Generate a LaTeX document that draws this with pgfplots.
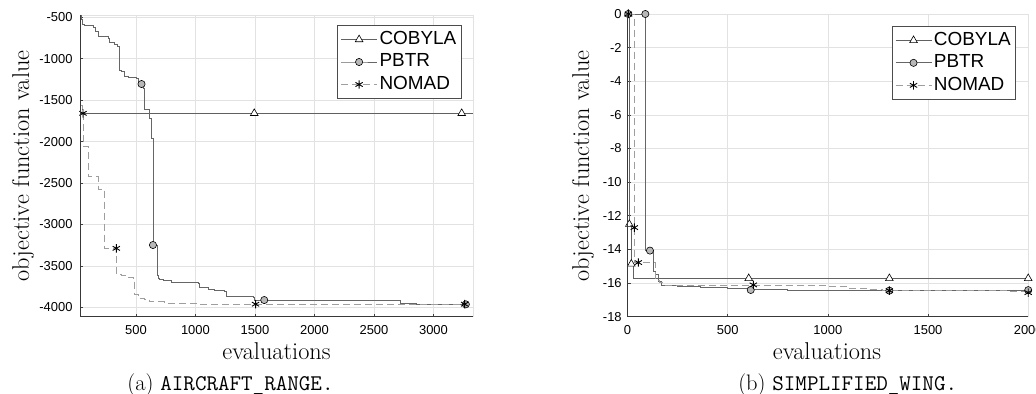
\documentclass[border=0pt]{standalone}
\usepackage{fontspec}
\newfontfamily\arial{Liberation Sans}
\usepackage{pgfplots}
\pgfplotsset{compat=1.18}
\definecolor{gridc}{HTML}{E2E2E2}
\pgfplotsset{
  mystyle/.style={
    scale only axis, anchor=south west,
    grid=major, grid style={gridc, line width=0.6bp},
    axis line style={gridc, line width=0.6bp},
    tick align=inside, xtick pos=left, ytick pos=left,
    major tick length=3bp,
    tick style={black!75, line width=0.6bp},
    tick label style={font=\arial\fontsize{13}{15}\selectfont},
    scaled ticks=false,
    clip mode=individual,
    legend cell align=left,
    legend style={anchor=north east, font=\arial\fontsize{19}{21}\selectfont,
      draw=black!70, line width=0.6bp, inner sep=3bp, row sep=0bp,
      nodes={inner sep=2bp, text height=14bp, text depth=4.5bp}},
    legend image code/.code={\draw[mark repeat=2,mark phase=2,##1] plot coordinates {(0bp,0bp) (18bp,0bp) (36bp,0bp)};},
    after end axis/.code={\draw[black!78, line width=0.7bp] (rel axis cs:0,1) -- (rel axis cs:0,0) -- (rel axis cs:1,0);},
  },
  cobline/.style={color=black!62, line width=0.8bp, solid},
  pbline/.style={color=black!60, line width=0.8bp, solid},
  noline/.style={color=black!38, line width=0.8bp, dash pattern=on 7bp off 4bp},
  cobmark/.style={mark=triangle*, mark size=4.4bp, mark options={fill=white, draw=black, solid, line width=0.6bp}},
  pbmark/.style={mark=*, mark size=3.6bp, mark options={fill=black!28, draw=black, solid, line width=0.6bp}},
  nomark/.style={mark=asterisk, mark size=4.2bp, mark options={draw=black, solid, line width=0.9bp}},
}
\begin{document}
\begin{tikzpicture}
\useasboundingbox (0,0) rectangle (1036bp,394bp);
% ---------------- left: AIRCRAFT_RANGE
\begin{axis}[mystyle,
  at={(80bp,77.3bp)}, width=393bp, height=301.7bp,
  xmin=30, xmax=3332, ymin=-4113, ymax=-472,
  xtick={500,1000,1500,2000,2500,3000},
  xticklabels={500,1000,1500,2000,2500,3000},
  ytick={-4000,-3500,-3000,-2500,-2000,-1500,-1000,-500},
  yticklabels={-4000,-3500,-3000,-2500,-2000,-1500,-1000,-500},
  yticklabel style={xshift=-4bp}, xticklabel style={yshift=-5bp},
  legend style={at={(0.971,0.967)}},
]
\addplot[cobline, forget plot] coordinates {(30,-1658) (3332,-1658)};
\addplot[pbline, const plot, forget plot] coordinates {
(30,-472)(38,-530)(50,-580)(70,-598)(140,-618)(158,-676)(188,-728)(265,-756)(280,-806)(321,-824)(345,-855)(360,-1136)(377,-1158)(405,-1208)(440,-1220)(503,-1238)(523,-1278)(565,-1360)(573,-1612)(612,-1720)(628,-1780)(634,-1960)(643,-3250)(677,-3612)(685,-3650)(700,-3665)(727,-3680)(800,-3695)(853,-3703)(1021,-3712)(1035,-3758)(1105,-3783)(1160,-3800)(1245,-3812)(1259,-3872)(1483,-3884)(1497,-3915)(2704,-3920)(2718,-3952)(2859,-3964)(3280,-3964)};
\addplot[noline, const plot, forget plot] coordinates {
(30,-1560)(50,-1658)(55,-2060)(97,-2425)(186,-2576)(237,-3288)(335,-3598)(380,-3612)(433,-3638)(475,-3662)(489,-3843)(517,-3891)(573,-3903)(615,-3932)(741,-3952)(1021,-3960)(3280,-3962)};
\addplot[only marks, cobmark, forget plot] coordinates {(1494,-1658)(3237,-1658)};
\addplot[only marks, pbmark, forget plot] coordinates {(547,-1305)(643,-3248)(1578,-3912)(3272,-3964)};
\addplot[only marks, nomark, forget plot] coordinates {(55,-1659)(335,-3288)(1505,-3962)(3262,-3962)};
\addlegendimage{cobline, cobmark}
\addlegendimage{pbline, pbmark}
\addlegendimage{noline, nomark}
\legend{COBYLA,PBTR,NOMAD}
\end{axis}
% ---------------- right: SIMPLIFIED_WING
\begin{axis}[mystyle,
  at={(627.5bp,77.3bp)}, width=400.7bp, height=302.7bp,
  xmin=0, xmax=2000, ymin=-18, ymax=0,
  xtick={0,500,1000,1500,2000},
  xticklabels={0,500,1000,1500,2000},
  ytick={-18,-16,-14,-12,-10,-8,-6,-4,-2,0},
  yticklabels={-18,-16,-14,-12,-10,-8,-6,-4,-2,0},
  yticklabel style={xshift=-2.3bp}, xticklabel style={yshift=-5bp},
  legend style={at={(0.9696,0.961)}},
]
\addplot[cobline, const plot, forget plot] coordinates {(2,0)(9,-12.5)(21,-14.86)(28,-15.75)(2000,-15.75)};
\addplot[pbline, const plot, forget plot] coordinates {
(2,0)(87,-14.07)(129,-15.32)(137,-15.5)(154,-15.92)(171,-16.11)(250,-16.2)(362,-16.25)(500,-16.33)(611,-16.38)(800,-16.44)(2000,-16.45)};
\addplot[noline, const plot, forget plot] coordinates {
(2,0)(34,-14.8)(140,-15.85)(160,-15.95)(176,-16.13)(1007,-16.18)(1100,-16.3)(1200,-16.37)(1274,-16.42)(1600,-16.46)(1900,-16.5)(1990,-16.57)(2000,-16.57)};
\addplot[only marks, cobmark, forget plot] coordinates {(4,0)(9,-12.5)(19,-14.86)(605,-15.72)(1307,-15.72)(2000,-15.72)};
\addplot[only marks, pbmark, forget plot] coordinates {(4,0)(89,0)(112,-14.07)(615,-16.41)(1307,-16.45)(2000,-16.42)};
\addplot[only marks, nomark, forget plot] coordinates {(4,0)(34,-12.7)(54,-14.78)(628,-16.11)(1307,-16.45)(2000,-16.57)};
\addlegendimage{cobline, cobmark}
\addlegendimage{pbline, pbmark}
\addlegendimage{noline, nomark}
\legend{COBYLA,PBTR,NOMAD}
\end{axis}
% ---------------- labels and captions
\node[rotate=90, inner sep=0, font=\fontsize{24.4}{28}\selectfont] at (23bp,228bp) {objective function value};
\node[rotate=90, inner sep=0, font=\fontsize{24.4}{28}\selectfont] at (583bp,228bp) {objective function value};
\node[inner sep=0, font=\fontsize{24.4}{28}\selectfont] at (276.5bp,42.4bp) {evaluations};
\node[inner sep=0, font=\fontsize{24.4}{28}\selectfont] at (827bp,42.4bp) {evaluations};
\node[inner sep=0, anchor=base, font=\fontsize{22.5}{26}\selectfont] at (230.5bp,3.6bp) {(a) \texttt{AIRCRAFT\_RANGE.}};
\node[inner sep=0, anchor=base, font=\fontsize{22.5}{26}\selectfont] at (847.7bp,3.6bp) {(b) \texttt{SIMPLIFIED\_WING.}};
\end{tikzpicture}
\end{document}
